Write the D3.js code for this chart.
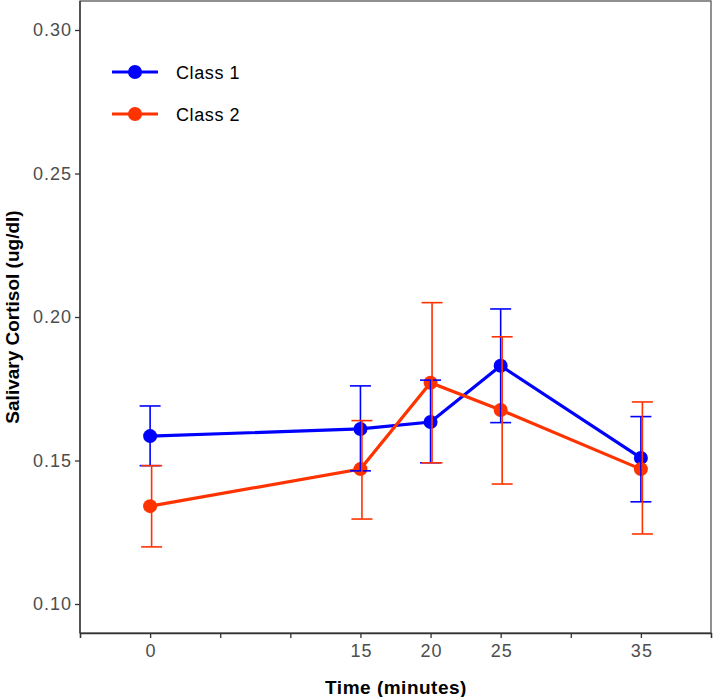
<!DOCTYPE html>
<html><head><meta charset="utf-8">
<script src="https://cdn.jsdelivr.net/npm/d3@7"></script>
<style>body{margin:0;background:#fff}svg{display:block}</style>
</head><body>
<script>
const times = [0, 15, 20, 25, 35];
const class1Mean  = [0.1585, 0.1610, 0.1634, 0.1830, 0.1509];
const class1Lower = [0.1482, 0.1464, 0.1492, 0.1632, 0.1356];
const class1Upper = [0.1690, 0.1760, 0.1780, 0.2028, 0.1653];
const class2Mean  = [0.1341, 0.1470, 0.1771, 0.1676, 0.1470];
const class2Lower = [0.1199, 0.1296, 0.1492, 0.1418, 0.1244];
const class2Upper = [0.1482, 0.1639, 0.2050, 0.1931, 0.1704];
const seriesNames = ["Class 1", "Class 2"];
const seriesColors = ["#0000ff", "#ff3300"];
const xTicks = [-5, 0, 5, 10, 15, 20, 25, 30, 35, 40];
const xTickLabels = {0:"0", 15:"15", 20:"20", 25:"25", 35:"35"};
const yTicks = [0.10, 0.15, 0.20, 0.25, 0.30];

(function(){
const W = 714, H = 697;
const FONT = "Liberation Sans, Arial, sans-serif";
const svg = d3.select("body").append("svg").attr("width", W).attr("height", H);
const x = d3.scaleLinear().domain([-5, 40]).range([80, 711]);
const y = d3.scaleLinear().domain([0.10, 0.30]).range([604, 30]);
const pTop = 1, pBottom = 633, pLeft = 80, pRight = 711;

svg.append("rect").attr("x", pLeft).attr("y", pTop).attr("width", pRight-pLeft).attr("height", pBottom-pTop)
  .attr("fill", "none").attr("stroke", "#555").attr("stroke-width", 1.3);

const xAxis = d3.axisBottom(x).tickValues(xTicks).tickSize(5).tickPadding(6)
  .tickFormat(d => xTickLabels[d] !== undefined ? xTickLabels[d] : "");
const gx = svg.append("g").attr("transform", `translate(0,${pBottom})`).call(xAxis);
const yAxis = d3.axisLeft(y).tickValues(yTicks).tickSize(5).tickPadding(3).tickFormat(d3.format(".2f"));
const gy = svg.append("g").attr("transform", `translate(${pLeft},0)`).call(yAxis);
[gx, gy].forEach(g => {
  g.select(".domain").attr("stroke", "#333").attr("stroke-width", 1.3);
  g.selectAll(".tick line").attr("stroke", "#333").attr("stroke-width", 1.3);
  g.selectAll(".tick text").attr("fill", "#4d4d4d").style("font-family", FONT)
    .style("font-size", "18px").style("letter-spacing", "1px");
});
gx.selectAll(".tick text").attr("dx", "0.5");
gy.select(".domain").attr("d", `M0,${pBottom}V${pTop}`);

svg.append("text").attr("x", 396).attr("y", 694).attr("text-anchor", "middle")
  .style("font-family", FONT).style("font-size", "19px").style("font-weight", "bold")
  .style("letter-spacing", "0.5px")
  .text("Time (minutes)");
svg.append("text").attr("transform", "translate(19,317) rotate(-90)").attr("text-anchor", "middle")
  .style("font-family", FONT).style("font-size", "19px").style("font-weight", "bold")
  .text("Salivary Cortisol (ug/dl)");

const series = [
  {name: seriesNames[0], color: seriesColors[0], mean: class1Mean, lo: class1Lower, hi: class1Upper},
  {name: seriesNames[1], color: seriesColors[1], mean: class2Mean, lo: class2Lower, hi: class2Upper}
];
const line = d3.line().x(d => x(d.t)).y(d => y(d.m));

series.forEach(s => {
  const pts = times.map((t, i) => ({t, m: s.mean[i]}));
  svg.append("path").datum(pts).attr("d", line).attr("fill", "none")
    .attr("stroke", s.color).attr("stroke-width", 3.2);
});
series.forEach(s => {
  svg.append("g").selectAll("circle").data(times.map((t, i) => ({t, m: s.mean[i]}))).join("circle")
    .attr("cx", d => x(d.t)).attr("cy", d => y(d.m)).attr("r", 7).attr("fill", s.color);
});
series.forEach((s, k) => {
  const g = svg.append("g").attr("stroke", s.color).attr("stroke-width", 1.6);
  const off = k === 0 ? 0 : 1.5;
  times.forEach((t, i) => {
    const cx = x(t) + off;
    g.append("line").attr("x1", cx).attr("x2", cx).attr("y1", y(s.lo[i])).attr("y2", y(s.hi[i]));
    g.append("line").attr("x1", cx-10.5).attr("x2", cx+10.5).attr("y1", y(s.lo[i])).attr("y2", y(s.lo[i]));
    g.append("line").attr("x1", cx-10.5).attr("x2", cx+10.5).attr("y1", y(s.hi[i])).attr("y2", y(s.hi[i]));
  });
});

series.forEach((s, i) => {
  const ly = 72 + i * 42;
  svg.append("line").attr("x1", 112).attr("x2", 158).attr("y1", ly).attr("y2", ly)
    .attr("stroke", s.color).attr("stroke-width", 3.2);
  svg.append("circle").attr("cx", 135).attr("cy", ly).attr("r", 7).attr("fill", s.color);
  svg.append("text").attr("x", 176).attr("y", ly + 6.5)
    .style("font-family", FONT).style("font-size", "18px").style("letter-spacing", "0.6px").attr("fill", "#000")
    .text(s.name);
});
})();
</script>
</body></html>
